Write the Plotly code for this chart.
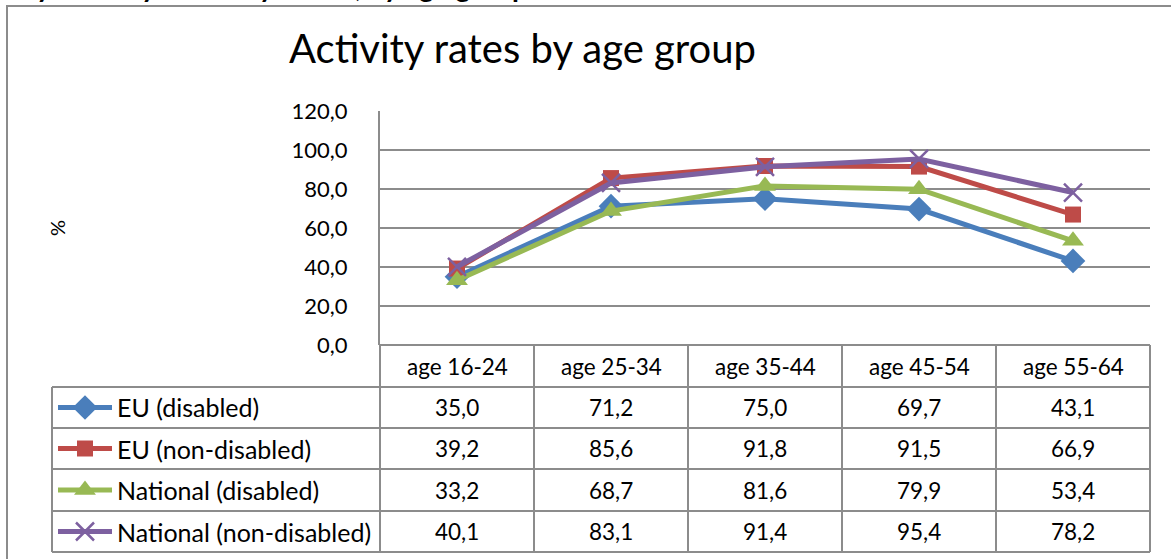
import plotly.graph_objects as go

# ---- data -------------------------------------------------------------
age_groups = ["age 16-24", "age 25-34", "age 35-44", "age 45-54", "age 55-64"]
series_names = ["EU (disabled)", "EU (non-disabled)",
                "National (disabled)", "National (non-disabled)"]
eu_disabled = [35.0, 71.2, 75.0, 69.7, 43.1]
eu_non_disabled = [39.2, 85.6, 91.8, 91.5, 66.9]
national_disabled = [33.2, 68.7, 81.6, 79.9, 53.4]
national_non_disabled = [40.1, 83.1, 91.4, 95.4, 78.2]
y_ticks = [0, 20, 40, 60, 80, 100, 120]

series_values = [eu_disabled, eu_non_disabled, national_disabled, national_non_disabled]
colors = ["#4A7EBB", "#BE4B48", "#98B954", "#7D60A0"]
symbols = ["diamond", "square", "triangle-up", "x-thin"]
msizes = [19, 16, 19, 18]

# ---- page geometry (pixels) --------------------------------------------
W, H = 1171, 559
FONT = "Lato, Carlito, Calibri, sans-serif"
GRID = "#8C8C8C"

plot_l, plot_r = 380, 1150
plot_t, plot_b = 111, 345
table_l = 52
row_lines = [387, 428, 469, 511, 552]


def fx(x):
    return x / W


def fy(y):
    return 1 - y / H


def fmt(v):
    return f"{v:.1f}".replace(".", ",")


def marker_style(symbol, size, color):
    m = dict(symbol=symbol, size=size, color=color)
    if symbol == "x-thin":
        m["line"] = dict(color=color, width=2.5)
    return m


fig = go.Figure()

# data lines on the main category axis
for name, vals, c, s, ms in zip(series_names, series_values, colors, symbols, msizes):
    fig.add_trace(go.Scatter(
        x=list(range(len(age_groups))), y=vals, name=name,
        mode="lines+markers", line=dict(color=c, width=5),
        marker=marker_style(s, ms, c), showlegend=False, cliponaxis=False,
        xaxis="x", yaxis="y",
    ))

# legend keys inside the table, drawn on a full-page pixel axis
for i, (name, c, s, ms) in enumerate(zip(series_names, colors, symbols, msizes)):
    cy = (row_lines[i] + row_lines[i + 1]) / 2
    fig.add_trace(go.Scatter(
        x=[58, 112], y=[cy, cy], mode="lines", line=dict(color=c, width=5),
        showlegend=False, hoverinfo="skip", xaxis="x2", yaxis="y2",
    ))
    fig.add_trace(go.Scatter(
        x=[85], y=[cy], mode="markers", marker=marker_style(s, ms, c),
        showlegend=False, hoverinfo="skip", xaxis="x2", yaxis="y2",
    ))

# document heading running above the chart frame (clipped by the page edge)
fig.add_trace(go.Scatter(
    x=[528], y=[-10], mode="text",
    text=["Activity rates by disability status, by age group"],
    textposition="middle left",
    textfont=dict(family=FONT, size=28, color="#000000", weight="bold"),
    showlegend=False, hoverinfo="skip", cliponaxis=True,
    xaxis="x2", yaxis="y2",
))

shapes = []
line_style = dict(color=GRID, width=2)

# outer chart frame (only top and left edges fall on the page)
shapes.append(dict(type="line", xref="paper", yref="paper",
                   x0=fx(6), x1=1, y0=fy(6), y1=fy(6), line=line_style))
shapes.append(dict(type="line", xref="paper", yref="paper",
                   x0=fx(7), x1=fx(7), y0=0, y1=fy(6), line=line_style))

# data table grid
col_edges = [plot_l + k * (plot_r - plot_l) / len(age_groups) for k in range(len(age_groups) + 1)]
for x in col_edges:
    shapes.append(dict(type="line", xref="paper", yref="paper",
                       x0=fx(x), x1=fx(x), y0=fy(plot_b), y1=fy(row_lines[-1]),
                       line=line_style))
shapes.append(dict(type="line", xref="paper", yref="paper",
                   x0=fx(table_l), x1=fx(table_l), y0=fy(row_lines[0]), y1=fy(row_lines[-1]),
                   line=line_style))
for y in row_lines:
    shapes.append(dict(type="line", xref="paper", yref="paper",
                       x0=fx(table_l), x1=fx(plot_r), y0=fy(y), y1=fy(y),
                       line=line_style))
shapes.append(dict(type="line", xref="paper", yref="paper",
                   x0=fx(plot_l), x1=fx(plot_r), y0=fy(plot_b), y1=fy(plot_b),
                   line=line_style))

annotations = []
label_font = dict(family=FONT, size=25, color="#000000")
num_font = dict(family=FONT, size=22.5, color="#000000")

# header row: age groups
for k, g in enumerate(age_groups):
    cx = (col_edges[k] + col_edges[k + 1]) / 2
    annotations.append(dict(text=g, xref="paper", yref="paper",
                            x=fx(cx), y=fy((plot_b + row_lines[0]) / 2),
                            xanchor="center", yanchor="middle", showarrow=False,
                            font=num_font))

# body rows: series name + values
for i, (name, vals) in enumerate(zip(series_names, series_values)):
    cy = (row_lines[i] + row_lines[i + 1]) / 2
    annotations.append(dict(text=name, xref="paper", yref="paper",
                            x=fx(115), y=fy(cy), xanchor="left", yanchor="middle",
                            showarrow=False, font=label_font))
    for k, v in enumerate(vals):
        cx = (col_edges[k] + col_edges[k + 1]) / 2
        annotations.append(dict(text=fmt(v), xref="paper", yref="paper",
                                x=fx(cx), y=fy(cy), xanchor="center", yanchor="middle",
                                showarrow=False, font=num_font))

# chart title
annotations.append(dict(text="Activity rates by age group", xref="paper", yref="paper",
                        x=fx(522), y=fy(48), xanchor="center", yanchor="middle",
                        showarrow=False, font=dict(family=FONT, size=40, color="#000000")))

# y axis title
annotations.append(dict(text="%", xref="paper", yref="paper",
                        x=fx(57), y=fy(228), xanchor="center", yanchor="middle",
                        textangle=-90, showarrow=False,
                        font=dict(family=FONT, size=20, color="#000000")))

fig.update_layout(
    width=W, height=H,
    margin=dict(l=0, r=0, t=0, b=0, autoexpand=False),
    paper_bgcolor="white", plot_bgcolor="rgba(0,0,0,0)",
    separators=", ",
    showlegend=False,
    shapes=shapes,
    annotations=annotations,
    xaxis=dict(domain=[fx(plot_l), fx(plot_r)], range=[-0.5, len(age_groups) - 0.5],
               showticklabels=False, showgrid=False, zeroline=False,
               showline=False, ticks="", fixedrange=True, anchor="y"),
    yaxis=dict(domain=[fy(plot_b), fy(plot_t)], range=[0, 120],
               tickvals=y_ticks, tickformat=".1f",
               showgrid=True, gridcolor=GRID, gridwidth=2,
               zeroline=False, showline=True, linecolor=GRID, linewidth=2,
               ticks="", ticklabelstandoff=26, anchor="x",
               tickfont=dict(family=FONT, size=22, color="#000000")),
    xaxis2=dict(domain=[0, 1], range=[0, W], visible=False, fixedrange=True,
                anchor="y2"),
    yaxis2=dict(domain=[0, 1], range=[H, 0], visible=False, fixedrange=True,
                anchor="x2"),
)

fig.write_html("out.html")
